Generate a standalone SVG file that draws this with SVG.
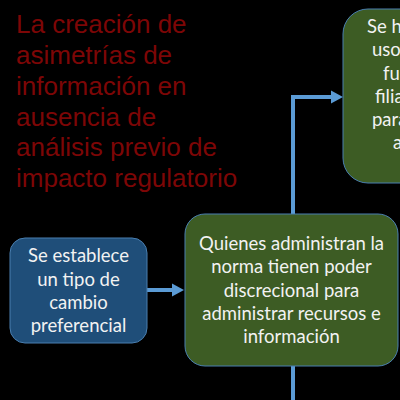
<svg xmlns="http://www.w3.org/2000/svg" width="400" height="400" viewBox="0 0 400 400">
<defs>
<style>
.title{font-family:"Liberation Sans",Arial,sans-serif;font-size:26px;fill:#7d0606}
.lbl{font-family:Lato,"Noto Sans",sans-serif;font-size:18.5px;fill:#f2f2f2;text-anchor:middle}
.lbls{font-family:Lato,"Noto Sans",sans-serif;font-size:18.5px;fill:#f2f2f2}
.blue{fill:#1f4e79;stroke:#4a7fb0;stroke-width:1}
.green{fill:#3d5c24;stroke:#4a7fb0;stroke-width:1}
.conn{fill:none;stroke:#5b9bd5;stroke-width:4}
</style>
<marker id="ah" markerWidth="4" markerHeight="4" refX="0" refY="2" orient="auto" markerUnits="userSpaceOnUse" viewBox="0 0 4 4" overflow="visible">
<path d="M0,-4.5 L12,2 L0,8.5 Z" fill="#5b9bd5"/>
</marker>
</defs>
<rect width="400" height="400" fill="#000"/>
<g id="title">
<text class="title" x="16" y="33">La creación de</text>
<text class="title" x="16" y="64">asimetrías de</text>
<text class="title" x="16" y="95">información en</text>
<text class="title" x="16" y="125.5">ausencia de</text>
<text class="title" x="16" y="156">análisis previo de</text>
<text class="title" x="16" y="187">impacto regulatorio</text>
</g>
<g id="connectors">
<path class="conn" d="M293,400 V97 H331" marker-end="url(#ah)"/>
<path class="conn" d="M147,290 H172" marker-end="url(#ah)"/>
</g>
<g id="node-tipo-cambio">
<rect class="blue" x="10" y="238" width="137" height="105" rx="15"/>
<text class="lbl" x="78.5" y="262">Se establece</text>
<text class="lbl" x="78.5" y="285.5">un tipo de</text>
<text class="lbl" x="78.5" y="309">cambio</text>
<text class="lbl" x="78.5" y="332">preferencial</text>
</g>
<g id="node-poder-discrecional">
<rect class="green" x="185" y="214" width="213" height="152" rx="20"/>
<text class="lbl" x="291.5" y="250">Quienes administran la</text>
<text class="lbl" x="291.5" y="273">norma tienen poder</text>
<text class="lbl" x="291.5" y="296.5">discrecional para</text>
<text class="lbl" x="291.5" y="320">administrar recursos e</text>
<text class="lbl" x="291.5" y="343">información</text>
</g>
<g id="node-derecha">
<rect class="green" x="343" y="9" width="170" height="174" rx="25"/>
<text class="lbls" x="367" y="33">Se h</text>
<text class="lbls" x="372" y="56.3">uso</text>
<text class="lbls" x="383" y="79.5">fu</text>
<text class="lbls" x="375" y="102.7">filia</text>
<text class="lbls" x="372" y="126">para</text>
<text class="lbls" x="393" y="149">a</text>
</g>
</svg>
